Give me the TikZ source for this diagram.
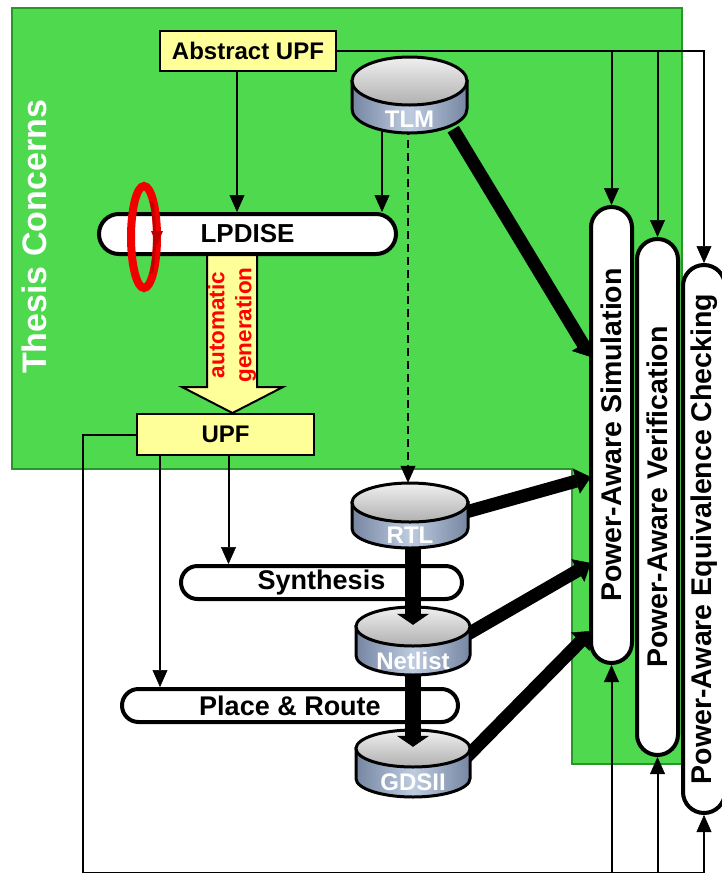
\documentclass[tikz,border=0pt]{standalone}
\usepackage{fontspec}
\setmainfont{Liberation Sans}
\usetikzlibrary{arrows.meta,shapes.misc,calc}
\definecolor{bggreen}{RGB}{78,217,78}
\definecolor{bgedge}{RGB}{40,150,40}
\definecolor{upfyellow}{RGB}{255,255,153}
\definecolor{cylside}{RGB}{190,204,224}
\definecolor{cylsidedark}{RGB}{118,134,162}
\definecolor{ringred}{RGB}{242,0,0}
\definecolor{ringdark}{RGB}{190,0,0}

\newcommand\drawcyl[7]{% name, cx, top, bottom, ry, half width, label
  \pgfmathsetmacro\cylL{#2-#6}%
  \pgfmathsetmacro\cylR{#2+#6}%
  \pgfmathsetmacro\cylT{#3+#5}%
  \pgfmathsetmacro\cylB{#4-#5}%
  \pgfmathsetmacro\cylM{(#3+2*#5+#4)/2}%
  \pgfmathsetmacro\cylC{(#3+#4)/2}%
  \pgfmathsetmacro\cylH{#4-#3}%
  \pgfmathsetmacro\cylW{2*#6}%
  \path[left color=cylsidedark, right color=cylsidedark, middle color=cylside, draw=black, line width=3pt]
    (\cylL,\cylT) -- (\cylL,\cylB) arc[start angle=180, end angle=0, x radius=#6, y radius=#5] -- (\cylR,\cylT) -- cycle;
  \path[top color=gray!12, bottom color=gray!62, draw=black, line width=3pt]
    (#2,\cylT) ellipse[x radius=#6, y radius=#5];
  \node[cyltext] at (#2,\cylM) {#7};
  \node[inner sep=0pt, minimum width=\cylW pt, minimum height=\cylH pt] (#1) at (#2,\cylC) {};
}

\begin{document}
\begin{tikzpicture}[x=1pt,y=-1pt,
  lbl/.style={font=\fontsize{24}{28}\selectfont\bfseries},
  ybox/.style={draw=black, line width=1.5pt, fill=upfyellow, inner sep=0pt, lbl},
  pill/.style={rounded rectangle, draw=black, line width=4pt, fill=white, inner sep=0pt,
    font=\fontsize{26}{30}\selectfont\bfseries},
  vpill/.style={rounded rectangle, draw=black, line width=4pt, fill=white, inner sep=0pt,
    rotate=90, font=\fontsize{28.5}{34}\selectfont\bfseries},
  cyltext/.style={text=white, font=\fontsize{24}{28}\selectfont\bfseries, inner sep=0pt},
  conn/.style={line width=2pt, -{Triangle[length=17pt,width=15pt,line width=0.5pt]}},
  fat/.style={line width=13pt, -{Triangle[length=15pt,width=26pt,line width=0.5pt]}},
  fatdown/.style={line width=16pt, -{Triangle[length=11pt,width=32pt,line width=0.5pt]}},
]
\useasboundingbox (0,0) rectangle (721,873);

% green background regions
\draw[fill=bggreen, draw=bgedge, line width=1.5pt]
  (12,8) -- (682,8) -- (682,764) -- (572,764) -- (572,469) -- (12,469) -- cycle;
\node[rotate=90, text=white, font=\fontsize{34}{40}\selectfont\bfseries, inner sep=0pt] (thesis) at (34,237) {Thesis Concerns};

% big hollow arrow: automatic generation
\draw[fill=upfyellow, line width=2pt, line join=miter]
  (207,250) -- (207,387) -- (182,387) -- (232.5,413) -- (283,387) -- (257,387) -- (257,250);
\node[rotate=90, text=red, font=\fontsize{22.5}{27}\selectfont\bfseries, align=center, inner sep=0pt] (autogen)
  at (232,325) {automatic\\generation};

% boxes
\node[ybox, minimum width=176pt, minimum height=40pt] (abs) at (248,51) {Abstract UPF};
\node[ybox, minimum width=177pt, minimum height=41pt] (upf) at (225.5,434.5) {UPF};
\node[pill, minimum width=297pt, minimum height=40pt] (lp) at (247.5,234) {LPDISE};

% red ring around LPDISE
\draw[ringred, line width=8pt] (144,237) ellipse[x radius=13, y radius=51];
\draw[ringdark, line width=3pt] (144,237) ++(7.5,-36) arc[start angle=-45, end angle=45, x radius=10.5, y radius=51];
\fill[ringdark] (151,231) -- (163,231) -- (157,245) -- cycle;

\node[pill, minimum width=281pt, minimum height=33pt, font=\fontsize{27}{30}\selectfont\bfseries] (syn) at (321.5,582.5) {Synthesis};
\node[pill, minimum width=336pt, minimum height=33pt, font=\fontsize{27}{30}\selectfont\bfseries] (pr) at (290,705.5) {Place \& Route};

% placeholder boxes for the cylinders and the simulation pill (connectors are drawn beneath them)
\path (409.5,95) node[inner sep=0pt, minimum width=115pt, minimum height=76pt] (tlm0) {};
\path (410,515.5) node[inner sep=0pt, minimum width=116pt, minimum height=65pt] (rtl0) {};
\path (413,641) node[inner sep=0pt, minimum width=114pt, minimum height=68pt] (net0) {};
\path (413,763.5) node[inner sep=0pt, minimum width=114pt, minimum height=67pt] (gds0) {};
\node[inner sep=0pt, minimum width=41pt, minimum height=456pt] (pasbox) at (611.5,435) {};

% thin connectors
\draw[conn] ([xshift=-11pt]abs.south) -- ([xshift=-11pt]abs.south |- lp.north);
\draw[conn] ([xshift=-27.5pt,yshift=6pt]tlm0.south) -- ([xshift=-27.5pt]tlm0.south |- lp.north);
\draw[conn, dash pattern=on 8pt off 5pt] ([xshift=-1.5pt,yshift=6pt]tlm0.south) -- ([xshift=-1.5pt]tlm0.south |- rtl0.north);
\draw[conn] ([xshift=3pt]upf.south) -- ([xshift=3pt]upf.south |- syn.north);
\draw[conn] ([xshift=-65.5pt]upf.south) -- ([xshift=-65.5pt]upf.south |- pr.north);

% fat diagonal arrows to simulation
\draw[fat] ($(tlm0.south east)+(-14,-4)$) -- ([yshift=78pt]pasbox.west);
\draw[fat] ([xshift=-4pt,yshift=3pt]rtl0.east) -- ([yshift=-42pt]pasbox.west);
\draw[fat] ([xshift=-4pt,yshift=6pt]net0.east) -- ([yshift=-128pt]pasbox.west);
\draw[fat] ([xshift=-4pt,yshift=6pt]gds0.east) -- ([yshift=-196pt]pasbox.west);

% cylinders and vertical fat arrows
\drawcyl{tlm}{409.5}{57}{133}{24}{57.5}{TLM}
\drawcyl{gds}{413}{730}{797}{18.5}{57}{GDSII}
\draw[fatdown] ([yshift=6pt]gds.north |- net0.south) -- ([yshift=-17pt]gds.north);
\drawcyl{net}{413}{607}{675}{19.5}{57}{Netlist}
\draw[fatdown] ([yshift=6pt]net.north |- rtl0.south) -- ([yshift=-18pt]net.north);
\drawcyl{rtl}{410}{483}{548}{19.5}{58}{RTL}

% power-aware pills
\node[vpill, minimum width=456pt, minimum height=41pt] (pas) at (611.5,435) {Power-Aware Simulation};
\node[vpill, minimum width=516pt, minimum height=41pt] (pav) at (657.5,497) {Power-Aware Verification};
\node[vpill, minimum width=548pt, minimum height=42pt] (paec) at (704,539) {Power-Aware Equivalence Checking};

% abstract UPF feeds the checks
\draw[conn] (abs.east) -| (pas.east);
\draw[conn] (abs.east) -| (pav.east);
\draw[conn] (abs.east) -| (paec.east);

% UPF feeds the checks from below
\coordinate (bl) at (83,873);
\draw[line width=2pt] (upf.west) -| (bl);
\draw[conn] (bl) -| (pas.west);
\draw[conn] (bl) -| (pav.west);
\draw[conn] (bl) -| (paec.west);
\end{tikzpicture}
\end{document}
